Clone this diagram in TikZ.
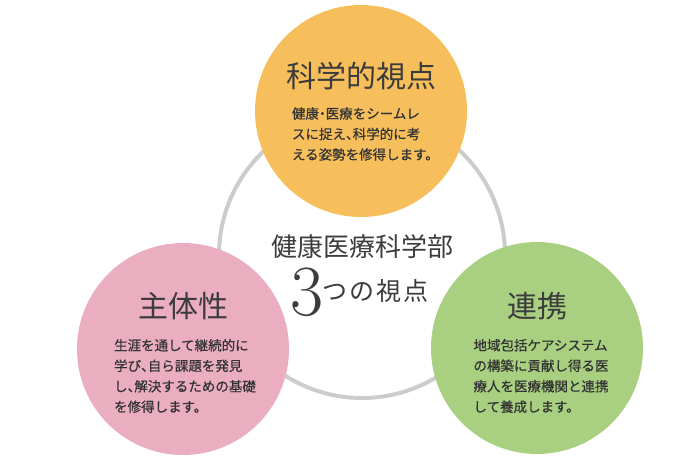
\documentclass[tikz,border=0pt]{standalone}
\usepackage{fontspec}
\newfontfamily\jp{Noto Sans CJK JP}
\newfontfamily\jpbody[RawFeature=+halt,FakeBold=0.6]{Noto Sans CJK JP}
\definecolor{sciorange}{HTML}{F6BF5B}
\definecolor{selfpink}{HTML}{EBAEC0}
\definecolor{linkgreen}{HTML}{A9D081}
\definecolor{ringgray}{HTML}{CCCCCC}
\definecolor{inkgray}{HTML}{3C3C3C}
\definecolor{bodygray}{HTML}{333333}
\newcommand{\jpsize}[1]{\jp\fontsize{#1}{#1}\selectfont}

\begin{document}
\begin{tikzpicture}[x=1pt,y=-1pt]
                        \tikzstyle{view}=[circle,minimum size=212pt,inner sep=0pt]
                        \tikzstyle{heading}=[font=\jpsize{30},text=inkgray]
                        \tikzstyle{body}=[font=\jpbody\fontsize{13.5}{20.5}\selectfont,text=bodygray,align=left,inner sep=0pt]
                        \useasboundingbox (0,0) rectangle (700,461);
                        \node[circle,draw=ringgray,line width=4pt,minimum size=286pt] (ring) at (362,255) {};
                        \node[view,fill=sciorange] (science) at (361,111) {};
                        \node[view,fill=selfpink] (self) at (183,349) {};
                        \node[view,fill=linkgreen] (link) at (537,348) {};
                        \node[heading] (science title) at (361,76) {科学的視点};
                        \node[body] (science text) at (362,134) {健康・医療をシームレ\\スに捉え、科学的に考\\える姿勢を修得します。};
                        \node[heading] (self title) at (183,306) {主体性};
                        \node[body] (self text) at (185,376) {生涯を通して継続的に\\学び、自ら課題を発見\\し、解決するための基礎\\を修得します。};
                        \node[heading] (link title) at (537,306) {連携};
                        \node[body] (link text) at (541,376) {地域包括ケアシステム\\の構築に貢献し得る医\\療人を医療機関と連携\\して養成します。};
                        \node[font=\jpsize{26},text=inkgray] (dept) at (362,247) {健康医療科学部};
                        \node[anchor=base,font=\fontsize{72}{72}\selectfont,text=inkgray,inner sep=0pt] (three) at (307,315) {3};
                        \node[anchor=base west,font=\jpsize{25}\addfontfeature{LetterSpace=8},text=inkgray,inner sep=0pt] (points) at (322,300) {つの視点};
\end{tikzpicture}
\end{document}
